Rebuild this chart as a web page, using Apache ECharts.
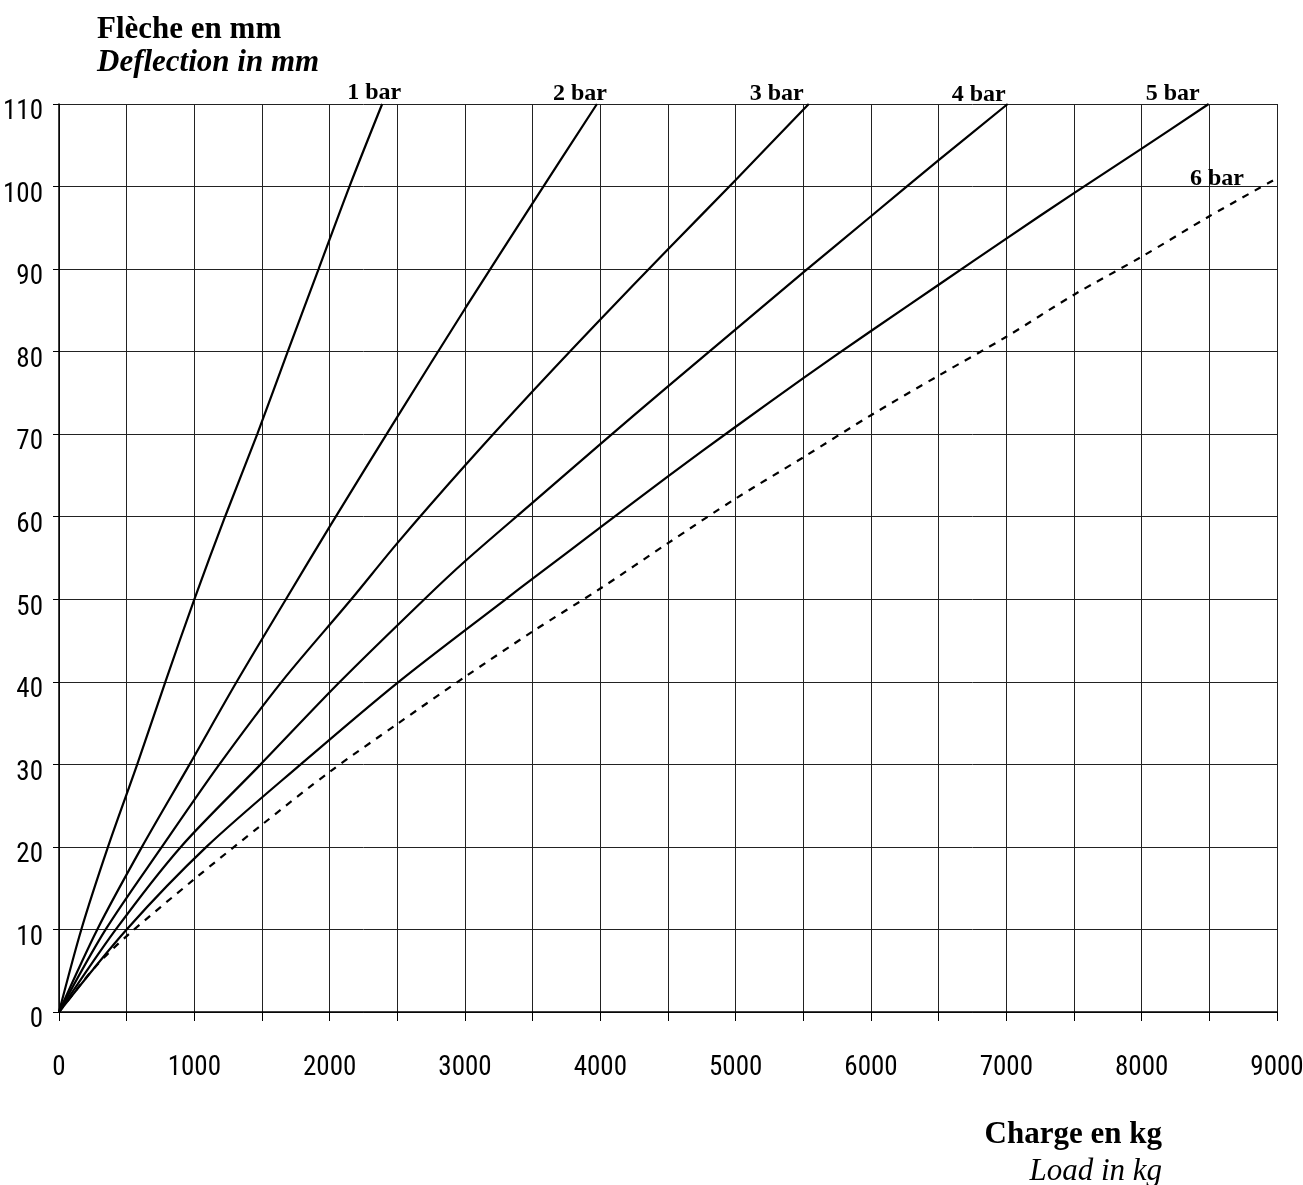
<!DOCTYPE html>
<html>
<head>
<meta charset="utf-8">
<script src="https://cdn.jsdelivr.net/npm/echarts@6/dist/echarts.min.js"></script>
<style>
html,body{margin:0;padding:0;background:#ffffff;}
#chart{width:1303px;height:1185px;}
</style>
</head>
<body>
<div id="chart"></div>
<script>
// ---- data (load in kg, deflection in mm) ----
const seriesNames = ['1 bar', '2 bar', '3 bar', '4 bar', '5 bar', '6 bar'];
const bar1 = [[0,0],[165,10],[362,20],[578,30],[786,40],[1000,50],[1227,60],[1465,70],[1690,80],[1918,90],[2146,100],[2388,110]];
const bar2 = [[0,0],[283,10],[613,20],[965,30],[1313,40],[1677,50],[2000,58.8],[2500,72.1],[3000,85.2],[3500,98.0],[3975,110]];
const bar3 = [[0,0],[345,10],[760,20],[1185,30],[1645,40],[2160,50],[2500,56.8],[3000,66.2],[3500,75.2],[4000,83.9],[4500,92.4],[5000,100.8],[5540,110]];
const bar4 = [[0,0],[420,10],[900,20],[1490,30],[2076,40],[2700,50],[3000,54.6],[3500,61.7],[4000,68.8],[4500,75.8],[5000,82.7],[5500,89.6],[6000,96.4],[6500,103.2],[7010,110]];
const bar5 = [[0,0],[500,10],[1089,20],[1786,30],[2510,40],[3300,50],[3500,52.5],[4000,58.7],[4500,64.9],[5000,70.9],[5500,76.8],[6000,82.5],[6500,88.1],[7000,93.7],[7500,99.2],[8000,104.6],[8495,110]];
const bar6 = [[0,0],[264,5.4],[500,9.2],[1000,16.1],[1500,22.7],[2000,29.1],[2500,34.9],[3000,40.6],[3500,46.1],[4000,51.3],[4500,56.8],[5000,62.2],[5500,67.2],[6000,72.3],[6500,77.1],[7000,81.8],[7500,86.9],[8000,91.5],[8500,96.4],[9000,101.0]];
const xTickLabels = [0,1000,2000,3000,4000,5000,6000,7000,8000,9000];
const yTickLabels = [0,10,20,30,40,50,60,70,80,90,100,110];
const xAxisTitle = ['Charge en kg', 'Load in kg'];
const yAxisTitle = ['Flèche en mm', 'Deflection in mm'];

// ---- styling (kept apart from data) ----
const allData = [bar1, bar2, bar3, bar4, bar5, bar6];
const lineTypes = ['solid','solid','solid','solid','solid',[7,7]];
const labelOffsets = [[-8,-11],[-17,-10],[-32,-10],[-29,-9],[-36,-10],[-60,1]];
const serifFont = "'Liberation Serif','Times New Roman',serif";
const narrowFont = "'Roboto Condensed','Liberation Sans Narrow','DejaVu Sans Condensed','Open Sans Condensed','Arial Narrow',Roboto,sans-serif";
const gridColor = '#222222';

const chart = echarts.init(document.getElementById('chart'), null, {renderer: 'canvas'});

const series = allData.map((d, i) => ({
  name: seriesNames[i],
  type: 'line',
  data: d,
  showSymbol: false,
  symbol: 'none',
  smooth: 0.3,
  silent: true,
  lineStyle: {color: '#000', width: 2.2, type: lineTypes[i]},
  markPoint: {
    symbol: 'circle',
    symbolSize: 0,
    silent: true,
    data: [{coord: d[d.length - 1], value: seriesNames[i]}],
    label: {
      show: true,
      position: 'inside',
      offset: labelOffsets[i],
      formatter: seriesNames[i],
      color: '#000',
      fontFamily: serifFont,
      fontWeight: 'bold',
      fontSize: 24
    }
  }
}));

const tickLabelStyle = {
  color: '#000',
  fontFamily: narrowFont,
  fontStyle: 'condensed',
  fontWeight: 'normal',
  fontSize: 27
};

chart.setOption({
  animation: false,
  backgroundColor: '#ffffff',
  grid: {left: 59, right: 26, top: 104, bottom: 173, containLabel: false, outerBoundsMode: 'none'},
  xAxis: {
    type: 'value',
    min: 0, max: 9000, interval: 500,
    name: '{a|' + xAxisTitle[0] + '}\n{b|' + xAxisTitle[1] + '}',
    nameLocation: 'end',
    nameGap: -115,
    nameTextStyle: {
      align: 'right',
      verticalAlign: 'top',
      padding: [104, 0, 0, 0],
      rich: {
        a: {fontFamily: serifFont, fontWeight: 'bold', fontSize: 31, lineHeight: 37, color: '#000', align: 'right'},
        b: {fontFamily: serifFont, fontStyle: 'italic', fontSize: 31, lineHeight: 37, color: '#000', align: 'right'}
      }
    },
    axisLine: {show: true, lineStyle: {color: '#000', width: 1.5}},
    axisTick: {show: true, length: 9, inside: false, lineStyle: {color: '#000', width: 1}},
    axisLabel: Object.assign({
      margin: 43,
      formatter: v => (xTickLabels.indexOf(v) >= 0 ? String(v) : '')
    }, tickLabelStyle),
    splitLine: {show: true, lineStyle: {color: gridColor, width: 1}}
  },
  yAxis: {
    type: 'value',
    min: 0, max: 110, interval: 10,
    name: '{a|' + yAxisTitle[0] + '}\n{b|' + yAxisTitle[1] + '}',
    nameLocation: 'end',
    nameGap: 25,
    nameTextStyle: {
      align: 'left',
      verticalAlign: 'bottom',
      padding: [0, 0, 0, 38],
      rich: {
        a: {fontFamily: serifFont, fontWeight: 'bold', fontSize: 31, lineHeight: 33, color: '#000'},
        b: {fontFamily: serifFont, fontWeight: 'bold', fontStyle: 'italic', fontSize: 31, lineHeight: 33, color: '#000'}
      }
    },
    axisLine: {show: true, lineStyle: {color: '#000', width: 1.5}},
    axisTick: {show: true, length: 6, inside: false, lineStyle: {color: '#000', width: 1}},
    axisLabel: Object.assign({
      margin: 16,
      verticalAlign: 'top',
      lineHeight: 17,
      formatter: v => (yTickLabels.indexOf(v) >= 0 ? String(v) : '')
    }, tickLabelStyle),
    splitLine: {show: true, lineStyle: {color: gridColor, width: 1}}
  },
  series: series
});
</script>
</body>
</html>
